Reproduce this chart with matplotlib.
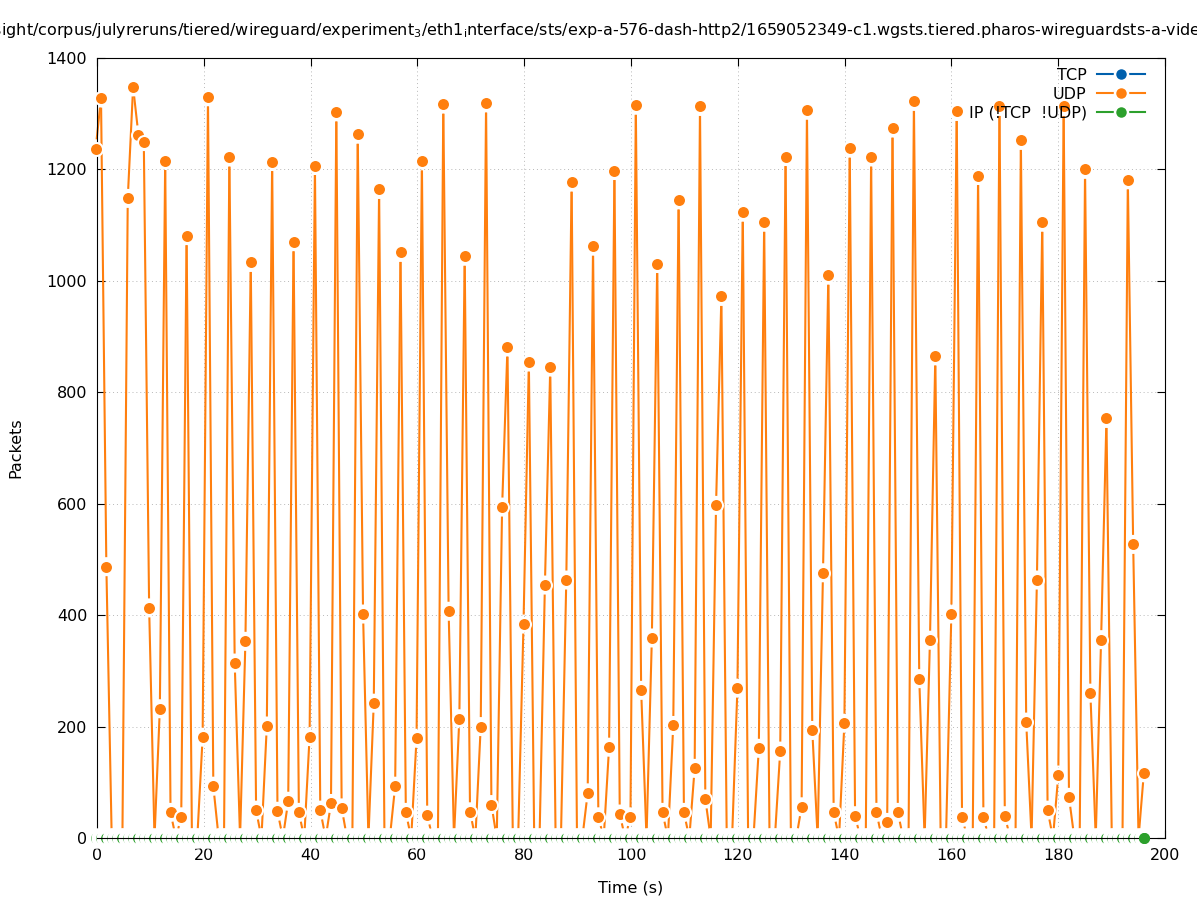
import numpy as np
import matplotlib
matplotlib.use("Agg")
import matplotlib.pyplot as plt
from matplotlib.collections import LineCollection
from matplotlib.lines import Line2D

# sample grid (one sample per ~1 s)
t0 = -0.25
step = 1.0015
n_samples = 197
time_s = t0 + step * np.arange(n_samples)

udp = [
    1237, 1328, 487, 0, 0, 0, 1148, 1348, 1262, 1250,
    413, 0, 232, 1216, 46, 0, 38, 1081, 0, 0,
    181, 1330, 93, 0, 0, 1222, 314, 0, 353, 1033,
    50, 0, 201, 1214, 48, 0, 66, 1070, 46, 0,
    182, 1207, 50, 0, 62, 1303, 54, 0, 0, 1263,
    402, 0, 242, 1164, 0, 0, 93, 1051, 46, 0,
    179, 1215, 41, 0, 0, 1317, 407, 0, 214, 1044,
    47, 0, 200, 1319, 60, 0, 594, 881, 0, 0,
    384, 854, 0, 0, 454, 845, 0, 0, 463, 1177,
    0, 0, 81, 1062, 38, 0, 163, 1198, 43, 0,
    38, 1315, 265, 0, 359, 1031, 46, 0, 202, 1145,
    46, 0, 125, 1313, 70, 0, 597, 972, 0, 0,
    269, 1123, 0, 0, 161, 1105, 0, 0, 156, 1223,
    0, 0, 56, 1306, 193, 0, 476, 1010, 46, 0,
    206, 1238, 40, 0, 0, 1222, 46, 0, 28, 1274,
    46, 0, 0, 1322, 286, 0, 355, 865, 0, 0,
    402, 1304, 37, 0, 0, 1189, 38, 0, 0, 1313,
    40, 0, 0, 1252, 208, 0, 463, 1105, 50, 0,
    113, 1313, 73, 0, 0, 1200, 260, 0, 356, 753,
    0, 0, 0, 1181, 527, 0, 117,
]
tcp = [0] * n_samples
ip_other = [0] * n_samples

labels = ["TCP", "UDP", "IP (!TCP  !UDP)"]
colors = ["#0060ad", "#ff7f0e", "#2ca02c"]

title = ("/insight/corpus/julyreruns/tiered/wireguard/experiment$_3$/eth1$_\\mathrm{i}$nterface/sts/"
         "exp-a-576-dash-http2/1659052349-c1.wgsts.tiered.pharos-wireguardsts-a-video")

FS = 11.5
DPI = 100
plt.rcParams["font.family"] = "DejaVu Sans"
plt.rcParams["font.size"] = FS

fig = plt.figure(figsize=(11.97, 9), dpi=DPI)
ax = fig.add_axes([97 / 1197, 62 / 900, 1068 / 1197, 780 / 900])
ax.set_xlim(0, 200)
ax.set_ylim(0, 1400)
ax.set_xticks(range(0, 201, 20))
ax.set_yticks(range(0, 1401, 200))
ax.tick_params(direction="in", length=6, width=0.8, top=True, right=True, pad=7, labelsize=FS)
ax.grid(True, color="#b8b8b8", linestyle=(0, (1, 3)), linewidth=0.7)
ax.set_axisbelow(True)
ax.set_xlabel("Time (s)", labelpad=13)
ax.set_ylabel("Packets", labelpad=17)
fig.text(0.5 - 7 / 1197, 1 - 30 / 900, title, ha="center", va="center", fontsize=FS)


def gapped(xs, ys, gap_px):
    pts = ax.transData.transform(np.column_stack([xs, ys]))
    inv = ax.transData.inverted()
    segs = []
    for p, q in zip(pts[:-1], pts[1:]):
        d = q - p
        L = np.hypot(d[0], d[1])
        if L <= 2 * gap_px:
            continue
        u = d / L
        segs.append(inv.transform(np.array([p + u * gap_px, q - u * gap_px])))
    return segs


px = 72 / DPI  # points per pixel
series = [tcp, udp, ip_other]
for i, (vals, c) in enumerate(zip(series, colors)):
    lc = LineCollection(gapped(time_s, vals, 9.5), colors=c, linewidths=1.5, zorder=2 + i * 0.1,
                        clip_on=False)
    ax.add_collection(lc)

# markers (white ring around each)
ax.plot(time_s, tcp, ls="none", marker="o", ms=15.5 * px, mfc=colors[0], mec="white",
        mew=4.5 * px, zorder=2.6, clip_on=False)
ax.plot(time_s, udp, ls="none", marker="o", ms=13 * px, mfc=colors[1], mec="white",
        mew=2 * px, zorder=2.7, clip_on=False)
ax.plot(time_s, ip_other, ls="none", marker="o", ms=15.5 * px, mfc=colors[2], mec="white",
        mew=4.5 * px, zorder=2.8, clip_on=False)
ax.spines["bottom"].set_zorder(2.9)
ax.plot(time_s[-1:], ip_other[-1:], ls="none", marker="o", ms=11 * px, mfc=colors[2], mec=colors[2],
        mew=0, zorder=3, clip_on=False)

handles = [Line2D([], [], color=c, lw=1.5, marker="o", ms=13 * px, mfc=c, mec="white", mew=2.5 * px)
           for c in colors]
ax.legend(handles, labels, loc="upper right", bbox_to_anchor=(1145 / 1197, 1 - 68 / 900),
          bbox_transform=fig.transFigure, frameon=False, markerfirst=False, borderpad=0,
          borderaxespad=0, handlelength=3.0, handletextpad=0.65, labelspacing=0.25, fontsize=FS)

fig.savefig("out.png", dpi=DPI)
